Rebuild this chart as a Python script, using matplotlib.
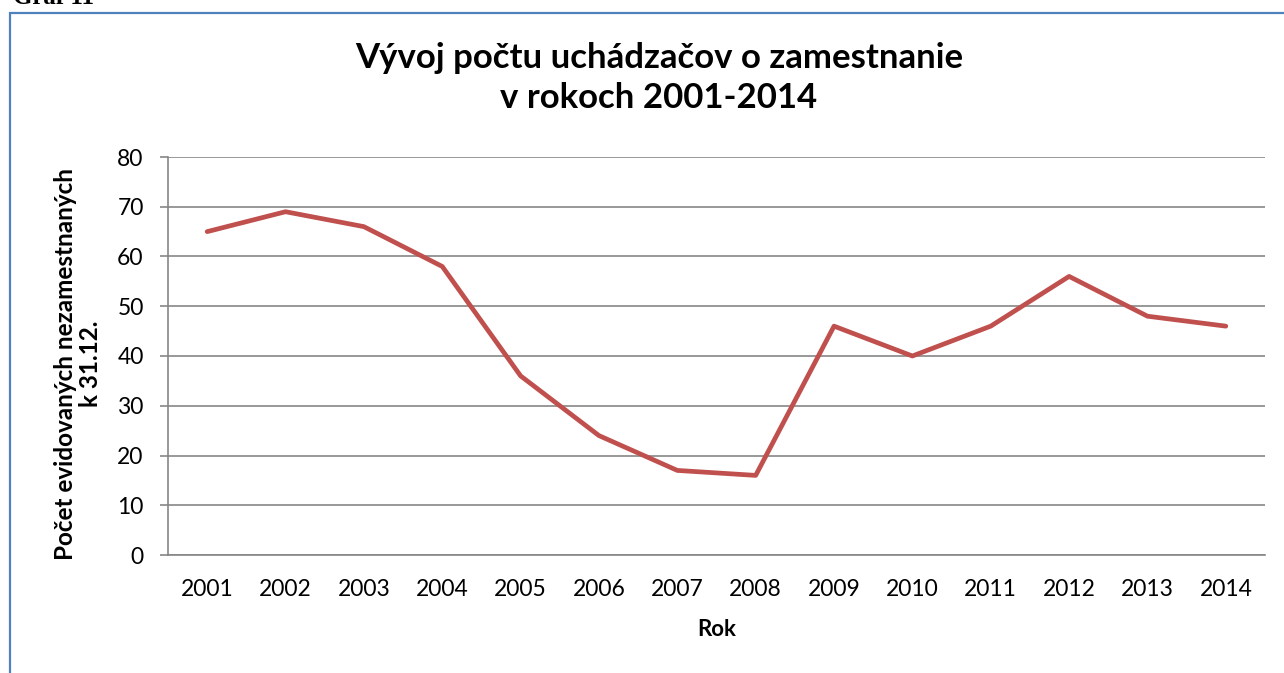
import matplotlib
matplotlib.use("Agg")
import matplotlib.pyplot as plt
from matplotlib.patches import Rectangle

years = ["2001", "2002", "2003", "2004", "2005", "2006", "2007",
         "2008", "2009", "2010", "2011", "2012", "2013", "2014"]
values = [65, 69, 66, 58, 36, 24, 17, 16, 46, 40, 46, 56, 48, 46]
yticks = [0, 10, 20, 30, 40, 50, 60, 70, 80]

title = "Vývoj počtu uchádzačov o zamestnanie\nv rokoch 2001-2014"
ylabel = "Počet evidovaných nezamestnaných\nk 31.12."
xlabel = "Rok"

plt.rcParams['font.family'] = ['Lato', 'DejaVu Sans']

W, H = 1284, 673
fig = plt.figure(figsize=(W / 100, H / 100), dpi=100)
fig.patch.set_facecolor("white")

# outer frame (partially cut off at right and bottom)
frame = Rectangle((10 / W, -0.1), 1.2, (H - 13) / H + 0.1, transform=fig.transFigure,
                  fill=False, edgecolor="#4F81BD", linewidth=1.6, zorder=0)
fig.patches.append(frame)

fig.text(13 / W, (H - 4) / H, "Graf 11", family="Liberation Serif", fontweight="bold",
         fontsize=18, va="baseline", ha="left")

ax = fig.add_axes([168 / W, (H - 555) / H, (1265 - 168) / W, (555 - 157) / H])
x = list(range(len(years)))
ax.plot(x, values, color="#C0504D", linewidth=3.4, solid_capstyle="round",
        solid_joinstyle="round", zorder=3)

ax.set_xlim(-0.5, len(years) - 0.5)
ax.set_ylim(0, 80)
ax.set_yticks(yticks)
ax.set_xticks(x)
ax.set_xticklabels(years)

ax.grid(axis="y", color="#868686", linewidth=1.2)
ax.set_axisbelow(True)
for s in ["top", "right"]:
    ax.spines[s].set_visible(False)
for s in ["left", "bottom"]:
    ax.spines[s].set_color("#868686")
    ax.spines[s].set_linewidth(1.2)

ax.tick_params(axis="y", length=5.5, width=1.2, color="#868686", pad=12,
               labelsize=16.5, labelcolor="black")
ax.tick_params(axis="x", length=0, pad=17, labelsize=16.5, labelcolor="black")

fig.text(717 / W, (H - 630) / H, xlabel, fontweight="bold", fontsize=16,
         ha="center", va="center")
fig.text(78 / W, (H - 364) / H, ylabel, fontweight="bold", fontsize=17.5,
         ha="center", va="center", rotation=90, linespacing=1.15, multialignment="center")
fig.text(659 / W, (H - 78) / H, title, fontweight="bold", fontsize=25,
         ha="center", va="center", linespacing=1.3, multialignment="center")

fig.savefig("out.png", dpi=100, facecolor="white")
